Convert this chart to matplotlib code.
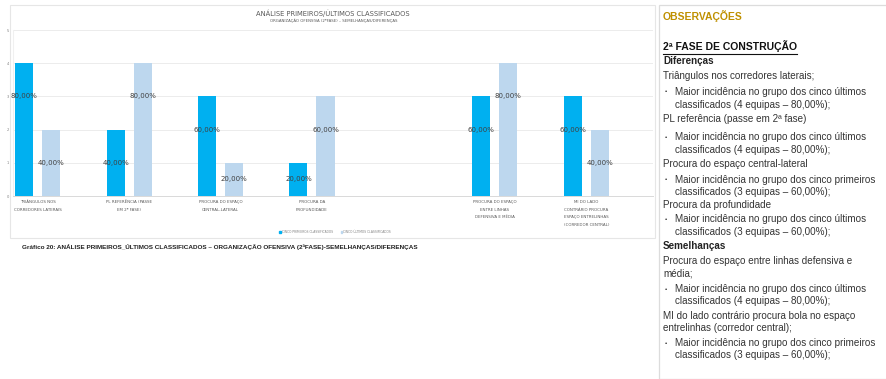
import matplotlib.pyplot as plt
import matplotlib.patches as mpatches
from matplotlib.lines import Line2D
import numpy as np

plt.rcParams['font.family'] = ['Liberation Sans Narrow', 'DejaVu Sans']

# data
categories = ["TRIÂNGULOS NOS\nCORREDORES LATERAIS",
              "PL REFERÊNCIA (PASSE\nEM 2ª FASE)",
              "PROCURA DO ESPAÇO\nCENTRAL-LATERAL",
              "PROCURA DA\nPROFUNDIDADE",
              "",
              "PROCURA DO ESPAÇO\nENTRE LINHAS\nDEFENSIVA E MÉDIA",
              "MI DO LADO\nCONTRÁRIO PROCURA\nESPAÇO ENTRELINHAS\n(CORREDOR CENTRAL)"]
primeiros = [4, 2, 3, 1, None, 3, 3]
ultimos = [2, 4, 1, 3, None, 4, 2]
primeiros_pct = ["80,00%", "40,00%", "60,00%", "20,00%", "", "60,00%", "60,00%"]
ultimos_pct = ["40,00%", "80,00%", "20,00%", "60,00%", "", "80,00%", "40,00%"]
yticks = [0, 1, 2, 3, 4, 5]

W, H = 887, 379
fig = plt.figure(figsize=(W / 100, H / 100), dpi=100)

def fx(px):
    return px / W

def fy(py):
    return 1 - py / H

# chart frame
fig.patches.append(mpatches.Rectangle((fx(10), fy(238)), fx(645), (233) / H,
                                      transform=fig.transFigure, fill=False,
                                      edgecolor='#e6e6e6', linewidth=0.8))

ax = fig.add_axes([fx(13), fy(196), fx(640), (196 - 30) / H])
x = np.arange(len(categories))
bw = 0.197
off = 0.148
for i in range(len(categories)):
    if primeiros[i] is None:
        continue
    ax.bar(x[i] - off, primeiros[i], bw, color='#00B0F0', zorder=2)
    ax.bar(x[i] + off, ultimos[i], bw, color='#BDD7EE', zorder=2)
    for v, lab, xo in [(primeiros[i], primeiros_pct[i], -off), (ultimos[i], ultimos_pct[i], off)]:
        ax.text(x[i] + xo, max(v - 1, v / 2), lab, ha='center', va='center',
                fontsize=5.0, color='#404040', zorder=3)

ax.set_xlim(-0.27, 6.73)
ax.set_ylim(0, 5)
ax.set_yticks(yticks)
ax.set_yticklabels([str(t) for t in yticks], fontsize=2.6, color='#808080')
ax.set_xticks(x)
ax.set_xticklabels(categories, fontsize=2.9, color='#595959', linespacing=2.2)
ax.tick_params(length=0, pad=3)
ax.grid(axis='y', color='#ececec', linewidth=0.7, zorder=0)
for s in ['top', 'right']:
    ax.spines[s].set_visible(False)
ax.spines['left'].set_color('#f0f0f0')
ax.spines['bottom'].set_color('#d9d9d9')
ax.spines['bottom'].set_linewidth(0.7)

fig.text(fx(333), fy(13), "ANÁLISE PRIMEIROS/ÚLTIMOS CLASSIFICADOS", ha='center', va='center',
         fontsize=4.9, color='#595959')
fig.text(fx(334), fy(21), "ORGANIZAÇÃO OFENSIVA (2ªFASE) – SEMELHANÇAS/DIFERENÇAS", ha='center',
         va='center', fontsize=2.8, color='#595959')

handles = [mpatches.Patch(color='#00B0F0'), mpatches.Patch(color='#BDD7EE')]
fig.legend(handles, ["CINCO PRIMEIROS CLASSIFICADOS", "CINCO ÚLTIMOS CLASSIFICADOS"],
           loc='center', bbox_to_anchor=(fx(335), fy(232)), ncol=2, frameon=False,
           fontsize=2.2, handlelength=0.5, handleheight=0.5, columnspacing=2.5,
           handletextpad=0.4, labelcolor='#808080')

fig.text(fx(22), fy(247), "Gráfico 20: ANÁLISE PRIMEIROS_ÚLTIMOS CLASSIFICADOS – ORGANIZAÇÃO "
         "OFENSIVA (2ªFASE)-SEMELHANÇAS/DIFERENÇAS", ha='left', va='center',
         fontsize=4.55, fontweight='bold', family=['Liberation Sans', 'DejaVu Sans'], color='#222222')

# right observations panel
fig.patches.append(mpatches.Rectangle((fx(659), fy(379)), fx(240), 374 / H,
                                      transform=fig.transFigure, fill=False,
                                      edgecolor='#dcdcdc', linewidth=0.9))
arial = ['Liberation Sans', 'DejaVu Sans']
fs = 7.15
fig.text(fx(663), fy(16), "OBSERVAÇÕES", fontsize=7.5, fontweight='bold', color='#BF9000',
         va='center', family=arial)
t = fig.text(fx(663), fy(46), "2ª FASE DE CONSTRUÇÃO", fontsize=7.5, fontweight='bold',
             color='#111111', va='center', family=arial)
fig.text(fx(663), fy(61), "Diferenças", fontsize=fs, fontweight='bold', color='#222222',
         va='center', family=arial)

lines = [
    (76, None, "Triângulos nos corredores laterais;"),
    (92, True, "Maior incidência no grupo dos cinco últimos"),
    (105, False, "classificados (4 equipas – 80,00%);"),
    (119, None, "PL referência (passe em 2ª fase)"),
    (137, True, "Maior incidência no grupo dos cinco últimos"),
    (150, False, "classificados (4 equipas – 80,00%);"),
    (164, None, "Procura do espaço central-lateral"),
    (180, True, "Maior incidência no grupo dos cinco primeiros"),
    (192, False, "classificados (3 equipas – 60,00%);"),
    (205, None, "Procura da profundidade"),
    (219, True, "Maior incidência no grupo dos cinco últimos"),
    (232, False, "classificados (3 equipas – 60,00%);"),
    (261, None, "Procura do espaço entre linhas defensiva e"),
    (274, None, "média;"),
    (289, True, "Maior incidência no grupo dos cinco últimos"),
    (301, False, "classificados (4 equipas – 80,00%);"),
    (316, None, "MI do lado contrário procura bola no espaço"),
    (328, None, "entrelinhas (corredor central);"),
    (343, True, "Maior incidência no grupo dos cinco primeiros"),
    (355, False, "classificados (3 equipas – 60,00%);"),
]
for y, bullet, s in lines:
    xs = 663 if bullet is None else 675
    fig.text(fx(xs), fy(y), s, fontsize=fs, color='#333333', va='center', family=arial)
    if bullet:
        fig.text(fx(665), fy(y), "•", fontsize=4.5, color='#333333', va='center', family=arial)
fig.text(fx(663), fy(246), "Semelhanças", fontsize=fs, fontweight='bold', color='#222222',
         va='center', family=arial)

# underline the phase heading
fig.canvas.draw()
bb = t.get_window_extent().transformed(fig.transFigure.inverted())
fig.add_artist(Line2D([bb.x0, bb.x1], [bb.y0 - 0.006, bb.y0 - 0.006], color='#111111',
                      linewidth=0.8, transform=fig.transFigure))

fig.savefig("out.png", dpi=100)
